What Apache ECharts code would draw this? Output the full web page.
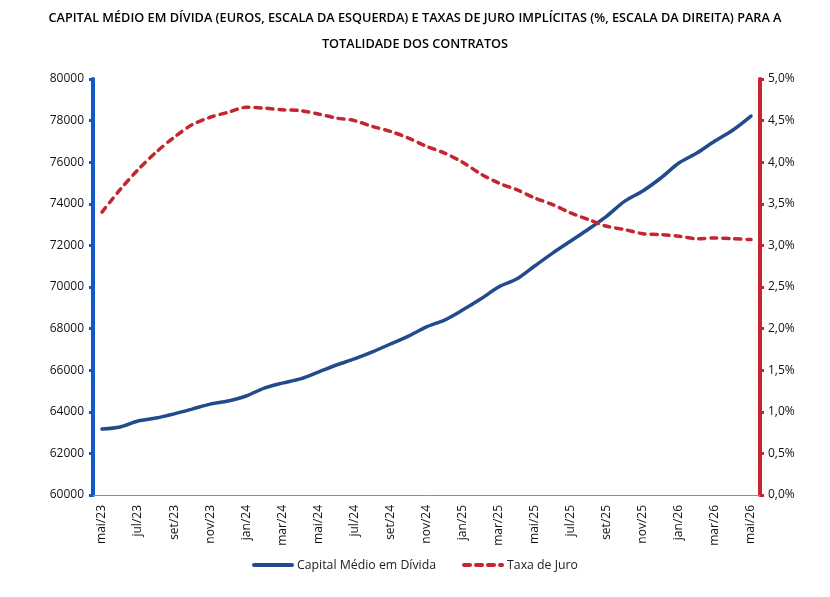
<!DOCTYPE html>
<html>
<head>
<meta charset="utf-8">
<script src="https://cdn.jsdelivr.net/npm/echarts@6/dist/echarts.min.js"></script>
<style>
  html, body { margin: 0; padding: 0; background: #fff; }
  #chart { width: 830px; height: 597px; }
</style>
</head>
<body>
<div id="chart"></div>
<script>
var meses = ['jan', 'fev', 'mar', 'abr', 'mai', 'jun', 'jul', 'ago', 'set', 'out', 'nov', 'dez'];
var categorias = [];
// mai/23 .. mai/26
for (var k = 0; k < 37; k++) {
  var m = (4 + k) % 12;
  var a = 23 + Math.floor((4 + k) / 12);
  categorias.push(meses[m] + '/' + a);
}
var capital = [63170, 63270, 63560, 63700, 63900, 64130, 64370, 64520, 64760, 65140, 65380, 65580,
  65910, 66250, 66540, 66880, 67260, 67640, 68080, 68410, 68890, 69420, 70000, 70380,
  71010, 71630, 72210, 72790, 73410, 74130, 74620, 75240, 75960, 76440, 77020, 77550, 78220];
var taxa = [3.40, 3.67, 3.91, 4.12, 4.30, 4.45, 4.54, 4.60, 4.66, 4.65, 4.63, 4.62,
  4.58, 4.53, 4.50, 4.43, 4.37, 4.29, 4.19, 4.11, 4.00, 3.86, 3.75, 3.67,
  3.57, 3.49, 3.39, 3.31, 3.23, 3.19, 3.14, 3.13, 3.11, 3.08, 3.09, 3.08, 3.07];

var chart = echarts.init(document.getElementById('chart'));
var option = {
  animation: false,
  textStyle: { fontFamily: 'Open Sans' },
  title: {
    text: 'CAPITAL MÉDIO EM DÍVIDA (EUROS, ESCALA DA ESQUERDA) E TAXAS DE JURO IMPLÍCITAS (%, ESCALA DA DIREITA) PARA A\nTOTALIDADE DOS CONTRATOS',
    left: 'center',
    top: 0,
    textStyle: { fontFamily: 'Open Sans', fontSize: 12.7, fontWeight: 600, color: '#000', lineHeight: 26, align: 'center' }
  },
  legend: {
    bottom: 21,
    left: 'center',
    itemWidth: 38,
    itemHeight: 4,
    itemGap: 26,
    lineStyle: { width: 4 },
    itemStyle: { opacity: 0 },
    textStyle: { fontFamily: 'Open Sans', fontSize: 12.3, color: '#222' },
    data: ['Capital Médio em Dívida', 'Taxa de Juro']
  },
  grid: { left: 93, right: 70, top: 79, bottom: 102 },
  xAxis: {
    type: 'category',
    data: categorias,
    boundaryGap: true,
    axisLine: { lineStyle: { color: '#8c8c8c', width: 1 } },
    axisTick: { interval: 1, length: 5, lineStyle: { color: '#8c8c8c' } },
    axisLabel: { interval: 1, rotate: 90, color: '#111', fontSize: 12, margin: 10 }
  },
  yAxis: [
    {
      type: 'value',
      min: 60000, max: 80000, interval: 2000,
      splitLine: { show: false },
      axisLine: { show: true, lineStyle: { color: '#1358C8', width: 4 } },
      axisTick: { show: true, length: 4, lineStyle: { color: '#1358C8', width: 3 } },
      axisLabel: { color: '#111', fontSize: 12, margin: 9, formatter: function (v) { return String(v); } }
    },
    {
      type: 'value',
      min: 0, max: 5, interval: 0.5,
      position: 'right',
      splitLine: { show: false },
      axisLine: { show: true, lineStyle: { color: '#C3262E', width: 4 } },
      axisTick: { show: true, length: 4, lineStyle: { color: '#C3262E', width: 3 } },
      axisLabel: {
        color: '#111', fontSize: 12, margin: 8,
        formatter: function (v) { return v.toFixed(1).replace('.', ',') + '%'; }
      }
    }
  ],
  series: [
    {
      name: 'Capital Médio em Dívida',
      type: 'line',
      yAxisIndex: 0,
      data: capital,
      symbol: 'none',
      smooth: 0.3,
      lineStyle: { color: '#214B8D', width: 3.5, cap: 'round' },
      itemStyle: { color: '#214B8D' }
    },
    {
      name: 'Taxa de Juro',
      type: 'line',
      yAxisIndex: 1,
      data: taxa,
      symbol: 'none',
      smooth: 0.3,
      lineStyle: { color: '#C3262E', width: 3.5, type: [6, 6], cap: 'round' },
      itemStyle: { color: '#C3262E' }
    }
  ]
};
option && chart.setOption(option);
</script>
</body>
</html>
